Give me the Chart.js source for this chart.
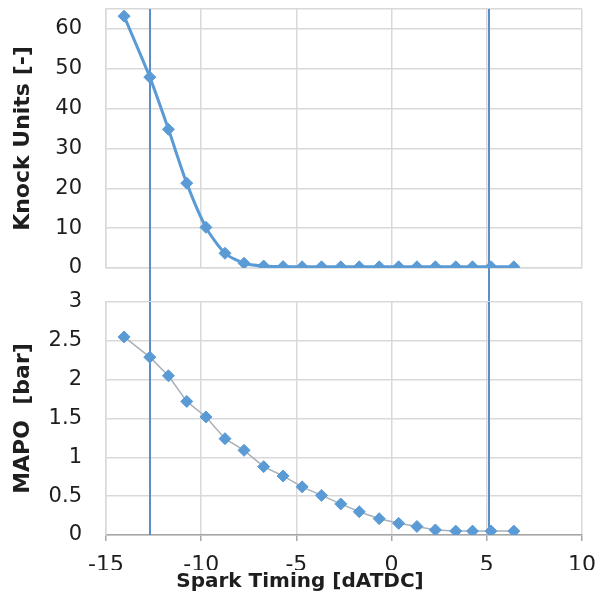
<!DOCTYPE html>
<html>
<head>
<meta charset="utf-8">
<script src="https://cdn.jsdelivr.net/npm/chart.js@4"></script>
<style>
  body { margin: 0; background: #fff; }
  #wrap { position: relative; width: 600px; height: 607px; }
  canvas { position: absolute; left: 0; }
  #knockChart { top: 0; }
  #mapoChart { top: 280px; }
</style>
</head>
<body>
<div id="wrap">
  <canvas id="knockChart" width="600" height="302"></canvas>
  <canvas id="mapoChart" width="600" height="327"></canvas>
</div>
<script>
// data
const sparkTiming = [-14.05, -12.7, -11.72, -10.76, -9.75, -8.75, -7.75, -6.72, -5.7,
                     -4.7, -3.68, -2.67, -1.7, -0.65, 0.37, 1.33, 2.3, 3.37, 4.25, 5.22, 6.42];
const knockUnits = [63.2, 47.9, 34.8, 21.3, 10.2, 3.7, 1.2, 0.5, 0.35,
                    0.3, 0.3, 0.3, 0.3, 0.3, 0.3, 0.3, 0.3, 0.3, 0.3, 0.3, 0.3];
const mapoBar = [2.55, 2.29, 2.05, 1.72, 1.52, 1.24, 1.09, 0.88, 0.76,
                 0.62, 0.51, 0.40, 0.30, 0.21, 0.15, 0.11, 0.065, 0.05, 0.05, 0.05, 0.05];
const limitTiming = [-12.7, 5.1];

const xTicks = [-15, -10, -5, 0, 5, 10];
const knockTicks = [0, 10, 20, 30, 40, 50, 60];
const knockMax = 65;
const mapoTicks = [0, 0.5, 1, 1.5, 2, 2.5, 3];

const FONT = "'DejaVu Sans', 'Liberation Sans', Arial, sans-serif";
const GRID = '#d9d9d9';
const BLUE = '#5b9bd5';
const TEXT = '#1e1e1e';

// vertical limit lines, drawn from the x scale
const limitLines = {
    id: 'limitLines',
    beforeDatasetsDraw(chart, args, opts) {
        const {ctx, chartArea, scales} = chart;
        const bottom = opts.toEdge ? chart.height : chartArea.bottom;
        ctx.save();
        ctx.strokeStyle = '#5a8dca';
        ctx.lineWidth = 2;
        limitTiming.forEach(v => {
            const px = Math.round(scales.x.getPixelForValue(v));
            ctx.beginPath();
            ctx.moveTo(px, chartArea.top);
            ctx.lineTo(px, bottom);
            ctx.stroke();
        });
        ctx.restore();
    }
};

function toPoints(ys) {
    return sparkTiming.map((x, i) => ({x: x, y: ys[i]}));
}

// left padding of 18 keeps the bottom title centred on the whole figure
function yAxis(title, ticks, max) {
    return {
        min: 0,
        max: max,
        afterBuildTicks: s => { s.ticks = ticks.concat(max > ticks[ticks.length - 1] ? [max] : []).map(v => ({value: v})); },
        afterFit: s => { s.width = 88; s.paddingTop = 0; s.paddingBottom = 0; },
        grid: {color: GRID, lineWidth: 1.5, drawTicks: false},
        border: {color: GRID, width: 1.5},
        ticks: {
            padding: 24,
            color: TEXT,
            font: {family: FONT, size: 21},
            callback: v => ticks.includes(v) ? String(v) : ''
        },
        title: {
            display: true,
            text: title,
            color: TEXT,
            padding: {top: -8, bottom: 0},
            font: {family: FONT, size: 22, weight: 'bold'}
        }
    };
}

const knockChart = new Chart(document.getElementById('knockChart'), {
    type: 'line',
    data: {
        datasets: [{
            data: toPoints(knockUnits),
            borderColor: BLUE,
            borderWidth: 3,
            tension: 0.25,
            pointStyle: 'rectRot',
            pointRadius: 6,
            pointBackgroundColor: BLUE,
            pointBorderColor: BLUE,
            pointBorderWidth: 1
        }]
    },
    options: {
        responsive: false,
        animation: false,
        layout: {padding: {top: 9, right: 18, left: 18, bottom: 0}},
        plugins: {legend: {display: false}, tooltip: {enabled: false}, limitLines: {toEdge: true}},
        scales: {
            x: {
                type: 'linear',
                min: xTicks[0],
                max: xTicks[xTicks.length - 1],
                afterBuildTicks: s => { s.ticks = xTicks.map(v => ({value: v})); },
                afterFit: s => { s.height = 34; s.paddingLeft = 0; s.paddingRight = 0; },
                grid: {color: GRID, lineWidth: 1.5, drawTicks: false},
                border: {color: GRID, width: 1.5},
                ticks: {display: false}
            },
            y: yAxis('Knock Units [-]', knockTicks, knockMax)
        }
    },
    plugins: [limitLines]
});

const mapoChart = new Chart(document.getElementById('mapoChart'), {
    type: 'line',
    data: {
        datasets: [{
            data: toPoints(mapoBar),
            borderColor: '#a9b0b8',
            borderWidth: 1.5,
            tension: 0,
            pointStyle: 'rectRot',
            pointRadius: 6,
            pointBackgroundColor: BLUE,
            pointBorderColor: BLUE,
            pointBorderWidth: 1
        }]
    },
    options: {
        responsive: false,
        animation: false,
        layout: {padding: {top: 22, right: 18, left: 18, bottom: 0}},
        plugins: {
            legend: {display: false},
            tooltip: {enabled: false},
            limitLines: {toEdge: false},
            title: {
                display: true,
                position: 'bottom',
                text: 'Spark Timing [dATDC]',
                color: TEXT,
                padding: {top: 0, bottom: 13},
                font: {family: FONT, size: 20, weight: 'bold'}
            }
        },
        scales: {
            x: {
                type: 'linear',
                min: xTicks[0],
                max: xTicks[xTicks.length - 1],
                afterBuildTicks: s => { s.ticks = xTicks.map(v => ({value: v})); },
                afterFit: s => { s.height = 35; s.paddingLeft = 0; s.paddingRight = 0; },
                grid: {color: GRID, lineWidth: 1.5, tickLength: 6, tickColor: '#a6a6a6'},
                border: {color: '#a6a6a6', width: 1.5},
                ticks: {
                    padding: 11,
                    maxRotation: 0,
                    color: TEXT,
                    font: {family: FONT, size: 22}
                }
            },
            y: yAxis('MAPO  [bar]', mapoTicks, 3)
        }
    },
    plugins: [limitLines]
});
</script>
</body>
</html>
